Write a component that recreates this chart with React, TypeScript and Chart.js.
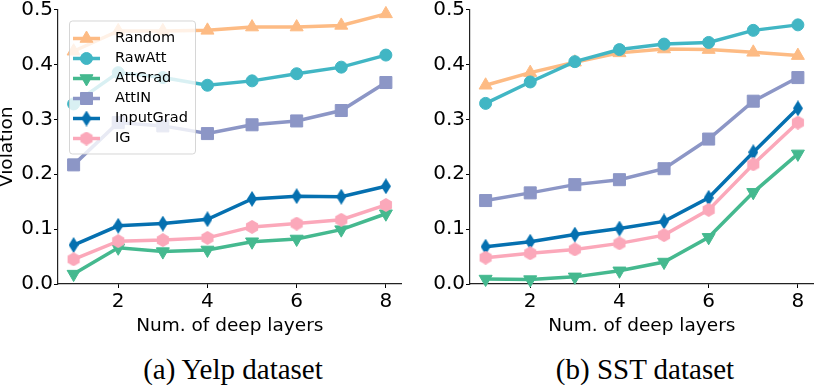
import React, { useEffect, useRef } from "react";
import { Chart, registerables } from "chart.js";
import { drawPoint } from "chart.js/helpers";

Chart.register(...registerables);

// ---------- data ----------
const layers = [1, 2, 3, 4, 5, 6, 7, 8];
const xTicks = [2, 4, 6, 8];
const yTicks = [0, 0.1, 0.2, 0.3, 0.4, 0.5];
const seriesNames = ["Random", "RawAtt", "AttGrad", "AttIN", "InputGrad", "IG"];
const seriesColors = ["#fdbb84", "#41b6c4", "#45b98f", "#8c96c6", "#0570b0", "#fba8ba"];

const yelpRandom = [0.424, 0.461, 0.461, 0.462, 0.468, 0.468, 0.471, 0.492];
const yelpRawAtt = [0.328, 0.385, 0.376, 0.362, 0.37, 0.383, 0.395, 0.417];
const yelpAttGrad = [0.018, 0.066, 0.059, 0.062, 0.077, 0.082, 0.099, 0.128];
const yelpAttIN = [0.217, 0.294, 0.288, 0.274, 0.29, 0.297, 0.316, 0.367];
const yelpInputGrad = [0.071, 0.106, 0.11, 0.118, 0.155, 0.16, 0.159, 0.178];
const yelpIG = [0.045, 0.078, 0.08, 0.084, 0.104, 0.11, 0.117, 0.144];

const sstRandom = [0.362, 0.385, 0.404, 0.421, 0.428, 0.427, 0.422, 0.416];
const sstRawAtt = [0.329, 0.368, 0.405, 0.427, 0.437, 0.44, 0.462, 0.472];
const sstAttGrad = [0.009, 0.008, 0.013, 0.024, 0.04, 0.085, 0.167, 0.237];
const sstAttIN = [0.152, 0.166, 0.181, 0.19, 0.21, 0.264, 0.333, 0.376];
const sstInputGrad = [0.068, 0.077, 0.09, 0.101, 0.114, 0.157, 0.24, 0.32];
const sstIG = [0.048, 0.056, 0.063, 0.074, 0.089, 0.135, 0.218, 0.294];

const yelpSeries = [yelpRandom, yelpRawAtt, yelpAttGrad, yelpAttIN, yelpInputGrad, yelpIG];
const sstSeries = [sstRandom, sstRawAtt, sstAttGrad, sstAttIN, sstInputGrad, sstIG];

// ---------- markers ----------
function makeCanvas(w: number, h: number, color: string, path: (ctx: CanvasRenderingContext2D) => void) {
  const c = document.createElement("canvas");
  c.width = w;
  c.height = h;
  const ctx = c.getContext("2d") as CanvasRenderingContext2D;
  ctx.fillStyle = color;
  ctx.beginPath();
  path(ctx);
  ctx.closePath();
  ctx.fill();
  return c;
}

function makeMarkers() {
  const diamond = makeCanvas(10, 16, seriesColors[4], (ctx) => {
    ctx.moveTo(5, 0);
    ctx.lineTo(10, 8);
    ctx.lineTo(5, 16);
    ctx.lineTo(0, 8);
  });
  const hex = makeCanvas(14, 14, seriesColors[5], (ctx) => {
    const cx = 7, cy = 7, r = 7;
    for (let k = 0; k < 6; k++) {
      const a = (-90 + 60 * k) * Math.PI / 180;
      const px = cx + r * Math.cos(a);
      const py = cy + r * Math.sin(a);
      if (k === 0) ctx.moveTo(px, py);
      else ctx.lineTo(px, py);
    }
  });
  return [
    { style: "triangle", radius: 7.5, rotation: 0, bw: 1 },
    { style: "circle", radius: 6, rotation: 0, bw: 1 },
    { style: "triangle", radius: 7.5, rotation: 180, bw: 1 },
    { style: "rect", radius: 8.5, rotation: 0, bw: 1 },
    { style: diamond, radius: 7, rotation: 0, bw: 0 },
    { style: hex, radius: 7, rotation: 0, bw: 0 },
  ] as any[];
}

function buildDatasets(values: number[][], markers: any[]) {
  return values.map((vals, i) => ({
    label: seriesNames[i],
    data: layers.map((x, j) => ({ x, y: vals[j] })),
    borderColor: seriesColors[i],
    backgroundColor: seriesColors[i],
    borderWidth: 3.5,
    pointStyle: markers[i].style,
    pointRadius: markers[i].radius,
    pointHoverRadius: markers[i].radius,
    pointRotation: markers[i].rotation,
    pointBackgroundColor: seriesColors[i],
    pointBorderColor: seriesColors[i],
    pointBorderWidth: markers[i].bw,
    tension: 0,
    order: values.length - i,
    clip: false as any,
  }));
}

// ---------- legend plugin ----------
const boxLegend = {
  id: "boxLegend",
  afterDatasetsDraw(chart: any, _args: any, opts: any) {
    if (!opts || !opts.show) return;
    const ctx = chart.ctx as CanvasRenderingContext2D;
    const { left, top } = chart.chartArea;
    const bx = left + 11, by = top + 11, bw = 126, bh = 133;
    ctx.save();
    ctx.beginPath();
    (ctx as any).roundRect(bx + 0.5, by + 0.5, bw, bh, 3);
    ctx.fillStyle = "rgba(255,255,255,0.8)";
    ctx.fill();
    ctx.strokeStyle = "rgba(204,204,204,0.8)";
    ctx.lineWidth = 1;
    ctx.stroke();
    chart.data.datasets.forEach((ds: any, i: number) => {
      const cy = by + 18 + i * 20;
      ctx.strokeStyle = ds.borderColor;
      ctx.lineWidth = ds.borderWidth;
      ctx.beginPath();
      ctx.moveTo(bx + 4, cy);
      ctx.lineTo(bx + 31, cy);
      ctx.stroke();
      ctx.fillStyle = ds.pointBackgroundColor;
      ctx.strokeStyle = ds.pointBorderColor;
      ctx.lineWidth = ds.pointBorderWidth;
      drawPoint(ctx, {
        pointStyle: ds.pointStyle,
        rotation: ds.pointRotation,
        radius: ds.pointRadius,
        borderWidth: ds.pointBorderWidth,
      } as any, bx + 17.5, cy);
      ctx.fillStyle = "#000";
      ctx.font = '14.5px "DejaVu Sans"';
      ctx.textBaseline = "middle";
      ctx.textAlign = "left";
      ctx.fillText(ds.label, bx + 46, cy);
    });
    ctx.restore();
  },
};

const FONT = "DejaVu Sans";

function makeConfig(values: number[][], markers: any[], withTitle: boolean, yWidth: number) {
  return {
    type: "line" as const,
    data: { datasets: buildDatasets(values, markers) },
    plugins: withTitle ? [boxLegend] : [],
    options: {
      animation: false as const,
      responsive: false,
      maintainAspectRatio: false,
      layout: { padding: { left: 0, top: 8, right: 3, bottom: 0 } },
      plugins: {
        legend: { display: false },
        tooltip: { enabled: false },
        boxLegend: { show: withTitle },
      } as any,
      scales: {
        x: {
          type: "linear" as const,
          min: 0.65,
          max: 8.35,
          afterBuildTicks: (s: any) => {
            s.ticks = xTicks.map((v) => ({ value: v }));
          },
          afterFit: (s: any) => {
            s.height = 56;
            s.paddingLeft = 0;
            s.paddingRight = 0;
          },
          grid: { display: true, drawOnChartArea: false, drawTicks: true, tickLength: 4, tickWidth: 1, tickColor: "#000" },
          border: { display: true, color: "#222", width: 1.2 },
          ticks: {
            color: "#000",
            font: { family: FONT, size: 20 },
            padding: 2,
            maxRotation: 0,
            autoSkip: false,
            callback: (v: any) => String(v),
          },
          title: {
            display: true,
            text: "Num. of deep layers",
            color: "#000",
            font: { family: FONT, size: 18.5, lineHeight: 0.8 },
            padding: { top: 0, bottom: 6 },
          },
        },
        y: {
          type: "linear" as const,
          min: 0,
          max: 0.5,
          afterBuildTicks: (s: any) => {
            s.ticks = yTicks.map((v) => ({ value: v }));
          },
          afterFit: (s: any) => {
            s.width = yWidth;
            s.paddingTop = 0;
            s.paddingBottom = 0;
          },
          grid: { display: true, drawOnChartArea: false, drawTicks: true, tickLength: 4, tickWidth: 1, tickColor: "#000" },
          border: { display: true, color: "#222", width: 1.2 },
          ticks: {
            color: "#000",
            font: { family: FONT, size: 20 },
            padding: 1,
            autoSkip: false,
            callback: (v: any) => Number(v).toFixed(1),
          },
          title: {
            display: withTitle,
            text: "Violation",
            color: "#000",
            font: { family: FONT, size: 18.5, lineHeight: 0.8 },
            padding: { top: 0, bottom: 0 },
          },
        },
      },
    },
  };
}

export default function App() {
  const leftRef = useRef<HTMLCanvasElement>(null);
  const rightRef = useRef<HTMLCanvasElement>(null);

  useEffect(() => {
    const markers = makeMarkers();
    const c1 = new Chart(leftRef.current as HTMLCanvasElement, makeConfig(yelpSeries, markers, true, 58) as any);
    const c2 = new Chart(rightRef.current as HTMLCanvasElement, makeConfig(sstSeries, markers, false, 59) as any);
    return () => {
      c1.destroy();
      c2.destroy();
    };
  }, []);

  const captionStyle: React.CSSProperties = {
    position: "absolute",
    top: 352,
    height: 34,
    lineHeight: "34px",
    fontFamily: '"Liberation Serif", serif',
    fontSize: 29,
    textAlign: "center",
    color: "#000",
    whiteSpace: "nowrap",
  };

  return (
    <div style={{ position: "absolute", left: 0, top: 0, width: 823, height: 385, background: "#fff", overflow: "hidden" }}>
      <canvas ref={leftRef} width={411} height={340} style={{ position: "absolute", left: 0, top: 0, width: 411, height: 340 }} />
      <canvas ref={rightRef} width={412} height={340} style={{ position: "absolute", left: 411, top: 0, width: 412, height: 340 }} />
      <div style={{ ...captionStyle, left: 58, width: 350 }}>(a) Yelp dataset</div>
      <div style={{ ...captionStyle, left: 470, width: 350 }}>(b) SST dataset</div>
    </div>
  );
}
